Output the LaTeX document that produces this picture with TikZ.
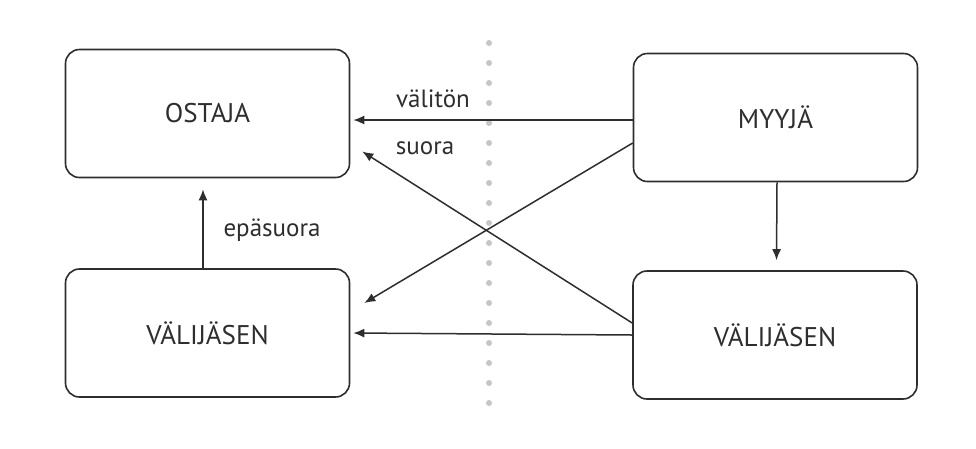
\documentclass[tikz,border=0pt]{standalone}
\usepackage{fontspec}
\setmainfont{PT Sans}
\usetikzlibrary{arrows.meta}
\definecolor{ink}{HTML}{2E2E2E}
\tikzset{
  box/.style={draw=ink, line width=1.6pt, rounded corners=14pt, minimum width=284pt, minimum height=128pt, inner sep=0pt, font=\fontsize{27}{30}\selectfont, text=ink},
  arr/.style={draw=ink, line width=1.5pt, -{Latex[length=11pt,width=9pt]}},
  lbl/.style={font=\fontsize{25}{28}\selectfont, text=ink, inner sep=0pt}
}
\begin{document}
\begin{tikzpicture}[x=1pt,y=-1pt]
\useasboundingbox (0,0) rectangle (976,448);
\fill[white] (0,0) rectangle (976,448);
% dotted divider
\foreach \yy in {43,63,...,403} \fill[gray!45] (489,\yy) circle (3pt);
% boxes
\node[box] (os) at (207.5,113.5) {OSTAJA};
\node[box] (my) at (775.5,117.5) {MYYJÄ};
\node[box] (vl) at (207.5,333) {VÄLIJÄSEN};
\node[box] (vr) at (775,335) {VÄLIJÄSEN};
% connectors
\draw[arr] ([yshift=-2.5pt]my.west) -- ([xshift=3pt,yshift=-6.5pt]os.east);
\draw[arr] ([yshift=12pt]vr.west) -- ([shift={(12,38)}]os.east);
\draw[arr] ([yshift=-25.5pt]my.west) -- ([shift={(14,-30)}]vl.east);
\draw[arr] ([xshift=1.5pt]my.south) -- ([xshift=1.5pt,yshift=10pt]vr.north);
\draw[arr] (vr.west) -- ([xshift=3pt]vl.east);
\draw[arr] ([xshift=-4.5pt]vl.north) -- ([xshift=-4.5pt,yshift=-11pt]os.south);
% labels
\node[lbl] (l1) at (433,99) {välitön};
\node[lbl] (l2) at (425,148) {suora};
\node[lbl] (l3) at (272,230) {epäsuora};
\end{tikzpicture}
\end{document}
